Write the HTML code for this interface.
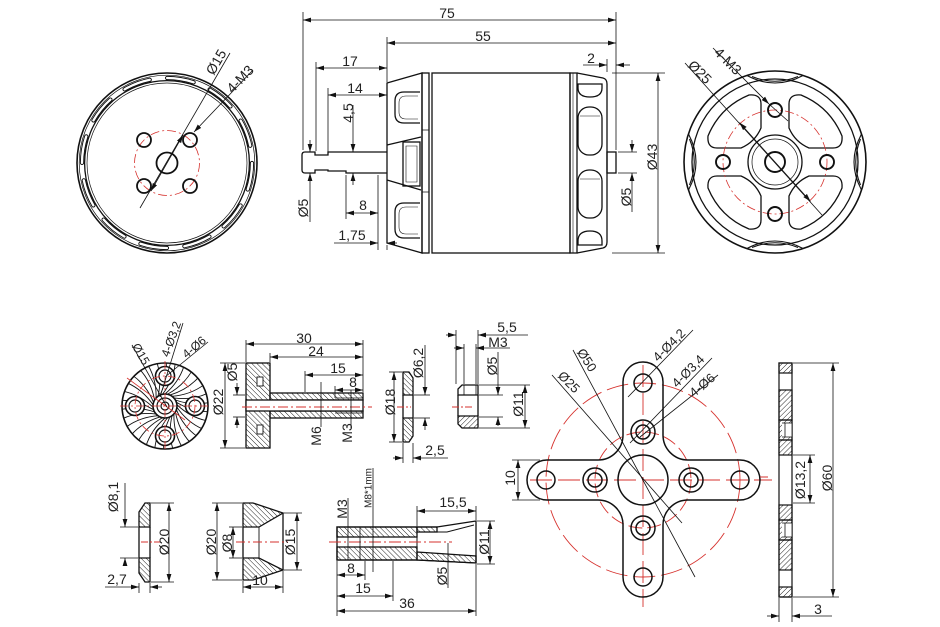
<!DOCTYPE html>
<html><head><meta charset="utf-8"><style>
html,body{margin:0;padding:0;background:#fff;}
svg{display:block}
text{font-family:"Liberation Sans",sans-serif;font-size:14px;fill:#222}
</style></head><body>
<svg width="940" height="627" viewBox="0 0 940 627" xmlns="http://www.w3.org/2000/svg">
<defs>
<marker id="a" viewBox="0 0 8 6" refX="8" refY="3" markerWidth="8" markerHeight="6" orient="auto-start-reverse" markerUnits="userSpaceOnUse"><path d="M0,0.6 L8,3 L0,5.4z" fill="#111"/></marker>
<pattern id="hb" width="3.6" height="3.6" patternUnits="userSpaceOnUse" patternTransform="rotate(-45)"><line x1="0" y1="0" x2="0" y2="3.6" stroke="#111" stroke-width="0.9"/></pattern>
<pattern id="hf" width="3.6" height="3.6" patternUnits="userSpaceOnUse" patternTransform="rotate(45)"><line x1="0" y1="0" x2="0" y2="3.6" stroke="#111" stroke-width="0.9"/></pattern>
<path id="petal" d="M14,-34 L14,-58 Q14,-68 26,-67 Q55,-55 67,-26 Q68,-14 58,-14 L34,-14 Q20,-20 14,-34 Z"/>
<path id="lens" d="M747,75.5 Q775,90.5 803,75.5 M752,76.5 Q775,86 798,76.5"/>
<path id="sw" d="M0,-12 Q14,-24 19,-40"/>
<clipPath id="dc"><circle cx="0" cy="0" r="42.5"/></clipPath>
</defs>

<!-- ============ LEFT FACE ============ -->
<g transform="translate(167,163)" fill="none" stroke="#111">
 <circle r="90" stroke-width="1.6"/>
 <circle r="87.8" stroke-width="0.7"/>
 <circle r="85" stroke-width="4.2" stroke-dasharray="27 17.5" stroke-linecap="round"/>
 <circle r="85" stroke="#fff" stroke-width="2.3" stroke-dasharray="27 17.5" stroke-linecap="round"/>
 <circle r="82.4" stroke-width="1.3"/>
 <circle r="80" stroke-width="0.7"/>
 <circle r="32.5" stroke="#d6322e" stroke-width="0.8" stroke-dasharray="9 3 2 3"/>
 <circle r="10.5" stroke-width="1.8"/>
 <circle cx="-23" cy="-23" r="7" stroke-width="1.8"/>
 <circle cx="23" cy="-23" r="7" stroke-width="1.8"/>
 <circle cx="-23" cy="23" r="7" stroke-width="1.8"/>
 <circle cx="23" cy="23" r="7" stroke-width="1.8"/>
</g>
<g stroke="#111" stroke-width="0.8" fill="none">
 <line x1="140" y1="208" x2="230" y2="53"/>
 <line x1="183" y1="135" x2="151" y2="191" marker-start="url(#a)" marker-end="url(#a)"/>
 <line x1="253" y1="70" x2="194" y2="132" marker-end="url(#a)"/>
</g>
<text transform="translate(216,62) rotate(-60)" text-anchor="middle" dy=".35em">Ø15</text>
<text transform="translate(240,79) rotate(-46)" text-anchor="middle" dy=".35em">4-M3</text>

<!-- ============ MOTOR SIDE VIEW ============ -->
<g fill="none" stroke="#111" stroke-width="1.3">
 <path d="M305,152 L315,152 L315,155 L328,155 L328,152 L387,152 M387,173 L346,173 L346,171 L328,171 L328,170 L315,170 L315,173 L305,173 Q302,173 302,170 L302,155 Q302,152 305,152"/>
 <path d="M387,83 L422,73 L422,253 L387,243 Z"/>
 <path d="M387,145 L421,137 M387,180 L421,190"/>
 <rect x="403" y="142" width="17" height="44"/>
 <path d="M406,146 L417,146 L417,182 L406,182 Z" stroke-width="0.6"/>
 <path d="M420,92 L404,92 Q395,92 395,101 L395,114 Q395,123 404,123 L420,123"/>
 <path d="M418,96 L406,96 Q399,96 399,103 L399,112 Q399,119 406,119 L418,119" stroke-width="0.6"/>
 <path d="M420,203 L404,203 Q395,203 395,212 L395,229 Q395,238 404,238 L420,238"/>
 <path d="M418,207 L406,207 Q399,207 399,214 L399,227 Q399,234 406,234 L418,234" stroke-width="0.6"/>
 <rect x="422" y="73" width="7" height="180"/>
 <path d="M422,130 L429,130 M422,192 L429,192" stroke-width="0.8"/>
 <rect x="432" y="73" width="138" height="180"/>
 <rect x="570" y="73" width="7" height="180"/>
 <line x1="573" y1="73" x2="573" y2="253" stroke-width="0.6"/>
 <path d="M577,73 L603,78 Q607,79 607,84 L607,242 Q607,247 603,248 L577,253"/>
 <path d="M578,84 L602,84 L602,88 Q602,97 590,97 Q578,97 578,88 Z"/>
 <rect x="578" y="107" width="24" height="48" rx="11"/>
 <line x1="580" y1="116" x2="600" y2="116" stroke-width="0.6"/>
 <rect x="578" y="170" width="24" height="48" rx="11"/>
 <line x1="580" y1="179" x2="600" y2="179" stroke-width="0.6"/>
 <path d="M578,245 L602,245 L602,241 Q602,231 590,231 Q578,231 578,241 Z"/>
 <rect x="607" y="152" width="9" height="21"/>
</g>
<g stroke="#111" stroke-width="0.8" fill="none">
 <line x1="303" y1="12" x2="303" y2="150"/>
 <line x1="616" y1="12" x2="616" y2="150"/>
 <line x1="387" y1="37" x2="387" y2="82"/>
 <line x1="316" y1="62" x2="316" y2="151"/>
 <line x1="328" y1="88" x2="328" y2="154"/>
 <line x1="346" y1="175" x2="346" y2="219"/>
 <line x1="378" y1="175" x2="378" y2="250"/>
 <line x1="387" y1="245" x2="387" y2="250"/>
 <line x1="607" y1="59" x2="607" y2="72"/>
 <line x1="612" y1="73" x2="665" y2="73"/>
 <line x1="612" y1="253" x2="665" y2="253"/>
 <line x1="618" y1="152" x2="637" y2="152"/>
 <line x1="618" y1="173" x2="637" y2="173"/>
 <line x1="303" y1="20" x2="616" y2="20" marker-start="url(#a)" marker-end="url(#a)"/>
 <line x1="387" y1="43" x2="616" y2="43" marker-start="url(#a)" marker-end="url(#a)"/>
 <line x1="316" y1="68" x2="387" y2="68" marker-start="url(#a)" marker-end="url(#a)"/>
 <line x1="328" y1="95" x2="387" y2="95" marker-start="url(#a)" marker-end="url(#a)"/>
 <line x1="353" y1="105" x2="353" y2="152" marker-end="url(#a)"/>
 <line x1="353" y1="185" x2="353" y2="173" marker-end="url(#a)"/>
 <line x1="310" y1="140" x2="310" y2="152" marker-end="url(#a)"/>
 <line x1="310" y1="222" x2="310" y2="173" marker-end="url(#a)"/>
 <line x1="346" y1="213" x2="378" y2="213" marker-start="url(#a)" marker-end="url(#a)"/>
 <line x1="334" y1="243" x2="378" y2="243" marker-end="url(#a)"/>
 <line x1="397" y1="243" x2="387" y2="243" marker-end="url(#a)"/>
 <line x1="583" y1="65" x2="607" y2="65" marker-end="url(#a)"/>
 <line x1="630" y1="65" x2="616" y2="65" marker-end="url(#a)"/>
 <line x1="658" y1="73" x2="658" y2="253" marker-start="url(#a)" marker-end="url(#a)"/>
 <line x1="632" y1="140" x2="632" y2="152" marker-end="url(#a)"/>
 <line x1="632" y1="212" x2="632" y2="173" marker-end="url(#a)"/>
</g>
<text x="447" y="18" text-anchor="middle">75</text>
<text x="483" y="41" text-anchor="middle">55</text>
<text x="350" y="66" text-anchor="middle">17</text>
<text x="355" y="93" text-anchor="middle">14</text>
<text transform="translate(348,113) rotate(-90)" text-anchor="middle" dy=".35em">4,5</text>
<text transform="translate(303,208) rotate(-90)" text-anchor="middle" dy=".35em">Ø5</text>
<text x="363" y="210" text-anchor="middle">8</text>
<text x="352" y="240" text-anchor="middle">1,75</text>
<text x="591" y="63" text-anchor="middle">2</text>
<text transform="translate(652,157) rotate(-90)" text-anchor="middle" dy=".35em">Ø43</text>
<text transform="translate(626,197) rotate(-90)" text-anchor="middle" dy=".35em">Ø5</text>

<!-- ============ RIGHT FACE ============ -->
<g fill="none" stroke="#111">
 <circle cx="775" cy="162" r="91" stroke-width="1.6"/>
 <circle cx="775" cy="162" r="83" stroke-width="1.3"/>
 <g stroke-width="1.1">
  <use href="#lens"/>
  <use href="#lens" transform="rotate(90 775 162)"/>
  <use href="#lens" transform="rotate(180 775 162)"/>
  <use href="#lens" transform="rotate(270 775 162)"/>
 </g>
 <g transform="translate(775,162)" stroke-width="1.3">
  <use href="#petal"/>
  <use href="#petal" transform="rotate(90)"/>
  <use href="#petal" transform="rotate(180)"/>
  <use href="#petal" transform="rotate(270)"/>
  <circle r="52" stroke="#d6322e" stroke-width="0.8" stroke-dasharray="9 3 2 3"/>
  <circle r="27" stroke-width="1.3"/>
  <circle r="23" stroke-width="0.7"/>
  <circle r="10" stroke-width="1.9"/>
  <circle cx="0" cy="-52" r="7" stroke-width="1.9"/>
  <circle cx="0" cy="52" r="7" stroke-width="1.9"/>
  <circle cx="-52" cy="0" r="7" stroke-width="1.9"/>
  <circle cx="52" cy="0" r="7" stroke-width="1.9"/>
 </g>
</g>
<g stroke="#111" stroke-width="0.8" fill="none">
 <line x1="685" y1="63" x2="822" y2="215"/>
 <line x1="739.5" y1="122.6" x2="810.5" y2="201.4" marker-start="url(#a)" marker-end="url(#a)"/>
 <line x1="713" y1="48" x2="769" y2="104" marker-end="url(#a)"/>
 <line x1="769" y1="104" x2="788" y2="121"/>
</g>
<text transform="translate(700,72) rotate(45)" text-anchor="middle" dy=".35em">Ø25</text>
<text transform="translate(728,61) rotate(45)" text-anchor="middle" dy=".35em">4-M3</text>

<!-- ============ DISC (bottom-left) ============ -->
<g fill="none" stroke="#111" transform="translate(165,406)">
 <g clip-path="url(#dc)" stroke-width="0.9">
  <use href="#sw"/><use href="#sw" transform="rotate(12)"/><use href="#sw" transform="rotate(24)"/><use href="#sw" transform="rotate(36)"/>
  <use href="#sw" transform="rotate(48)"/><use href="#sw" transform="rotate(60)"/><use href="#sw" transform="rotate(72)"/><use href="#sw" transform="rotate(84)"/>
  <use href="#sw" transform="rotate(96)"/><use href="#sw" transform="rotate(108)"/><use href="#sw" transform="rotate(120)"/><use href="#sw" transform="rotate(132)"/>
  <use href="#sw" transform="rotate(144)"/><use href="#sw" transform="rotate(156)"/><use href="#sw" transform="rotate(168)"/><use href="#sw" transform="rotate(180)"/>
  <use href="#sw" transform="rotate(192)"/><use href="#sw" transform="rotate(204)"/><use href="#sw" transform="rotate(216)"/><use href="#sw" transform="rotate(228)"/>
  <use href="#sw" transform="rotate(240)"/><use href="#sw" transform="rotate(252)"/><use href="#sw" transform="rotate(264)"/><use href="#sw" transform="rotate(276)"/>
  <use href="#sw" transform="rotate(288)"/><use href="#sw" transform="rotate(300)"/><use href="#sw" transform="rotate(312)"/><use href="#sw" transform="rotate(324)"/>
  <use href="#sw" transform="rotate(336)"/><use href="#sw" transform="rotate(348)"/>
 </g>
 <circle r="43" stroke-width="1.6"/>
 <g fill="#fff" stroke-width="1.6">
  <circle cx="0" cy="-30" r="9.5"/><circle cx="0" cy="30" r="9.5"/><circle cx="-30" cy="0" r="9.5"/><circle cx="30" cy="0" r="9.5"/>
  <circle r="12"/>
 </g>
 <g stroke-width="1.2">
  <circle cx="0" cy="-30" r="6"/><circle cx="0" cy="30" r="6"/><circle cx="-30" cy="0" r="6"/><circle cx="30" cy="0" r="6"/>
  <circle r="8"/><circle r="4"/>
 </g>
 <circle r="30" stroke="#d6322e" stroke-width="0.8" stroke-dasharray="8 3 2 3"/>
 <g stroke="#d6322e" stroke-width="0.8">
  <line x1="-45" y1="0" x2="45" y2="0" stroke-dasharray="8 3 2 3"/>
  <line x1="0" y1="-45" x2="0" y2="45" stroke-dasharray="8 3 2 3"/>
  <line x1="-38" y1="-28" x2="20" y2="14"/>
 </g>
</g>
<g stroke="#111" stroke-width="0.8" fill="none">
 <line x1="132" y1="345" x2="167" y2="407"/>
 <line x1="183" y1="323" x2="160" y2="397"/>
 <line x1="208" y1="342" x2="165" y2="377"/>
</g>
<text transform="translate(141,354) rotate(60)" text-anchor="middle" dy=".35em" style="font-size:12px">Ø15</text>
<text transform="translate(171,339) rotate(-70)" text-anchor="middle" dy=".35em" style="font-size:12px">4-Ø3,2</text>
<text transform="translate(194,347) rotate(-40)" text-anchor="middle" dy=".35em" style="font-size:12px">4-Ø6</text>

<!-- ============ ADAPTER SIDE ============ -->
<g stroke="#111" stroke-width="1.3">
 <rect x="246" y="363" width="24" height="85" fill="url(#hb)"/>
 <rect x="270" y="393" width="93" height="7" fill="url(#hb)"/>
 <rect x="270" y="411" width="93" height="7" fill="url(#hb)"/>
 <rect x="246" y="400" width="117" height="11" fill="#fff"/>
 <rect x="257" y="377" width="6" height="9" fill="#fff" stroke-width="0.9"/>
 <rect x="257" y="425" width="6" height="9" fill="#fff" stroke-width="0.9"/>
 <line x1="335" y1="398" x2="363" y2="398" stroke-width="0.8"/>
 <line x1="335" y1="413" x2="363" y2="413" stroke-width="0.8"/>
</g>
<line x1="242" y1="407" x2="372" y2="407" stroke="#d6322e" stroke-width="0.9" stroke-dasharray="10 3 2 3"/>
<g stroke="#111" stroke-width="0.8" fill="none">
 <line x1="246" y1="340" x2="246" y2="362"/>
 <line x1="363" y1="340" x2="363" y2="392"/>
 <line x1="270" y1="353" x2="270" y2="362"/>
 <line x1="305" y1="371" x2="305" y2="392"/>
 <line x1="335" y1="386" x2="335" y2="398"/>
 <line x1="220" y1="363" x2="245" y2="363"/>
 <line x1="220" y1="448" x2="245" y2="448"/>
 <line x1="233" y1="395" x2="245" y2="395"/>
 <line x1="233" y1="417" x2="245" y2="417"/>
 <line x1="246" y1="344" x2="363" y2="344" marker-start="url(#a)" marker-end="url(#a)"/>
 <line x1="270" y1="357" x2="363" y2="357" marker-start="url(#a)" marker-end="url(#a)"/>
 <line x1="305" y1="375" x2="363" y2="375" marker-start="url(#a)" marker-end="url(#a)"/>
 <line x1="335" y1="390" x2="363" y2="390" marker-start="url(#a)" marker-end="url(#a)"/>
 <line x1="225" y1="363" x2="225" y2="448" marker-start="url(#a)" marker-end="url(#a)"/>
 <line x1="237" y1="383" x2="237" y2="395" marker-end="url(#a)"/>
 <line x1="237" y1="428" x2="237" y2="417" marker-end="url(#a)"/>
 <line x1="321" y1="382" x2="321" y2="427"/>
 <line x1="351" y1="390" x2="351" y2="428"/>
</g>
<text x="304" y="343" text-anchor="middle">30</text>
<text x="316" y="356" text-anchor="middle">24</text>
<text x="338" y="373" text-anchor="middle">15</text>
<text x="353" y="387" text-anchor="middle">8</text>
<text transform="translate(218,402) rotate(-90)" text-anchor="middle" dy=".35em">Ø22</text>
<text transform="translate(232,372) rotate(-90)" text-anchor="middle" dy=".35em">Ø5</text>
<text transform="translate(316,436) rotate(-90)" text-anchor="middle" dy=".35em">M6</text>
<text transform="translate(347,433) rotate(-90)" text-anchor="middle" dy=".35em">M3</text>

<!-- ============ WASHER ============ -->
<g stroke="#111" stroke-width="1.3">
 <path d="M403,372 L409,372 L413,378 L413,395 L403,395 Z" fill="url(#hb)"/>
 <path d="M403,418 L413,418 L413,436 L409,442 L403,442 Z" fill="url(#hb)"/>
 <line x1="403" y1="395" x2="403" y2="418"/>
 <line x1="413" y1="395" x2="413" y2="418"/>
</g>
<line x1="397" y1="407" x2="411" y2="407" stroke="#d6322e" stroke-width="0.9" stroke-dasharray="7 2 2 2"/>
<g stroke="#111" stroke-width="0.8" fill="none">
 <line x1="389" y1="372" x2="402" y2="372"/>
 <line x1="389" y1="442" x2="402" y2="442"/>
 <line x1="394" y1="372" x2="394" y2="442" marker-start="url(#a)" marker-end="url(#a)"/>
 <line x1="414" y1="395" x2="430" y2="395"/>
 <line x1="414" y1="418" x2="430" y2="418"/>
 <line x1="425" y1="345" x2="425" y2="395" marker-end="url(#a)"/>
 <line x1="425" y1="430" x2="425" y2="418" marker-end="url(#a)"/>
 <line x1="403" y1="443" x2="403" y2="463"/>
 <line x1="413" y1="443" x2="413" y2="463"/>
 <line x1="393" y1="458" x2="403" y2="458" marker-end="url(#a)"/>
 <line x1="448" y1="458" x2="413" y2="458" marker-end="url(#a)"/>
</g>
<text transform="translate(390,402) rotate(-90)" text-anchor="middle" dy=".35em">Ø18</text>
<text transform="translate(418,363) rotate(-90)" text-anchor="middle" dy=".35em">Ø6,2</text>
<text x="435" y="455" text-anchor="middle">2,5</text>

<!-- ============ NUT ============ -->
<g stroke="#111" stroke-width="1.3">
 <path d="M462,385 L478,385 L478,395 L458,395 L458,389 Z" fill="#fff"/>
 <path d="M458,416 L478,416 L478,428 L462,428 L458,424 Z" fill="url(#hf)"/>
 <line x1="458" y1="395" x2="458" y2="416"/>
 <line x1="478" y1="395" x2="478" y2="416"/>
 <line x1="464" y1="385" x2="464" y2="395" stroke-width="0.8"/>
 <line x1="476" y1="385" x2="476" y2="395" stroke-width="0.8"/>
</g>
<line x1="452" y1="407" x2="472" y2="407" stroke="#d6322e" stroke-width="0.9" stroke-dasharray="7 2 2 2"/>
<g stroke="#111" stroke-width="0.8" fill="none">
 <line x1="456" y1="330" x2="456" y2="384"/>
 <line x1="478" y1="330" x2="478" y2="384"/>
 <line x1="464" y1="344" x2="464" y2="384"/>
 <line x1="476" y1="344" x2="476" y2="384"/>
 <line x1="446" y1="335" x2="456" y2="335" marker-end="url(#a)"/>
 <line x1="528" y1="335" x2="478" y2="335" marker-end="url(#a)"/>
 <line x1="454" y1="348" x2="464" y2="348" marker-end="url(#a)"/>
 <line x1="510" y1="348" x2="476" y2="348" marker-end="url(#a)"/>
 <line x1="479" y1="395" x2="503" y2="395"/>
 <line x1="479" y1="417" x2="503" y2="417"/>
 <line x1="498" y1="352" x2="498" y2="395" marker-end="url(#a)"/>
 <line x1="498" y1="426" x2="498" y2="417" marker-end="url(#a)"/>
 <line x1="479" y1="385" x2="530" y2="385"/>
 <line x1="479" y1="428" x2="530" y2="428"/>
 <line x1="525" y1="385" x2="525" y2="428" marker-start="url(#a)" marker-end="url(#a)"/>
</g>
<text x="507" y="332" text-anchor="middle">5,5</text>
<text x="498" y="347" text-anchor="middle">M3</text>
<text transform="translate(492,366) rotate(-90)" text-anchor="middle" dy=".35em">Ø5</text>
<text transform="translate(518,404) rotate(-90)" text-anchor="middle" dy=".35em">Ø11</text>

<!-- ============ CROSS MOUNT ============ -->
<g fill="none">
 <circle cx="643" cy="480" r="97" stroke="#d6322e" stroke-width="0.9" stroke-dasharray="22 6"/>
 <circle cx="643" cy="480" r="48" stroke="#d6322e" stroke-width="0.9" stroke-dasharray="14 5"/>
 <line x1="530" y1="480" x2="772" y2="480" stroke="#d6322e" stroke-width="0.9" stroke-dasharray="22 6"/>
 <line x1="643" y1="365" x2="643" y2="607" stroke="#d6322e" stroke-width="0.9" stroke-dasharray="22 6"/>
 <path d="M623,382 A20,20 0 0 1 663,382 L663,435 A25,25 0 0 0 688,460 L740,460 A20,20 0 0 1 740,500 L688,500 A25,25 0 0 0 663,525 L663,577 A20,20 0 0 1 623,577 L623,525 A25,25 0 0 0 598,500 L547,500 A20,20 0 0 1 547,460 L598,460 A25,25 0 0 0 623,435 Z" stroke="#111" stroke-width="1.5"/>
 <g stroke="#111" stroke-width="1.5">
  <circle cx="643" cy="480" r="25"/>
  <circle cx="643" cy="383" r="9"/><circle cx="643" cy="577" r="9"/><circle cx="546" cy="480" r="9"/><circle cx="740" cy="480" r="9"/>
  <circle cx="643" cy="432" r="12"/><circle cx="643" cy="528" r="12"/><circle cx="595" cy="480" r="12"/><circle cx="691" cy="480" r="12"/>
  <circle cx="643" cy="432" r="7"/><circle cx="643" cy="528" r="7"/><circle cx="595" cy="480" r="7"/><circle cx="691" cy="480" r="7"/>
 </g>
 <g stroke="#111" stroke-width="0.8">
  <line x1="552" y1="375" x2="682" y2="523"/>
  <line x1="573" y1="350" x2="695" y2="577"/>
  <line x1="628" y1="397" x2="693" y2="330"/>
  <line x1="630" y1="443" x2="712" y2="358"/>
  <line x1="640" y1="437" x2="718" y2="375"/>
  <line x1="512" y1="460" x2="540" y2="460"/>
  <line x1="512" y1="500" x2="540" y2="500"/>
  <line x1="518" y1="460" x2="518" y2="500" marker-start="url(#a)" marker-end="url(#a)"/>
 </g>
</g>
<text transform="translate(569,382) rotate(45)" text-anchor="middle" dy=".35em" style="font-size:13px">Ø25</text>
<text transform="translate(587,360) rotate(57)" text-anchor="middle" dy=".35em" style="font-size:13px">Ø50</text>
<text transform="translate(669,345) rotate(-45)" text-anchor="middle" dy=".35em" style="font-size:13px">4-Ø4,2</text>
<text transform="translate(688,371) rotate(-45)" text-anchor="middle" dy=".35em" style="font-size:13px">4-Ø3,4</text>
<text transform="translate(702,385) rotate(-40)" text-anchor="middle" dy=".35em" style="font-size:13px">4-Ø6</text>
<text transform="translate(510,478) rotate(-90)" text-anchor="middle" dy=".35em">10</text>

<!-- ============ PLATE ============ -->
<g stroke="#111" stroke-width="1.2">
 <rect x="779" y="363" width="13" height="234" fill="#fff"/>
 <rect x="779" y="363" width="13" height="10" fill="url(#hf)"/>
 <rect x="779" y="390" width="13" height="30" fill="url(#hf)"/>
 <path d="M779,420 L792,420 L792,440 L779,440 Z" fill="url(#hf)"/>
 <path d="M785,423 L792,423 L792,437 L785,437 Z M782,423 L785,423 L785,437 L782,437" fill="#fff" stroke-width="0.8"/>
 <rect x="779" y="440" width="13" height="15" fill="url(#hf)"/>
 <rect x="779" y="505" width="13" height="15" fill="url(#hf)"/>
 <path d="M779,520 L792,520 L792,540 L779,540 Z" fill="url(#hf)"/>
 <path d="M785,523 L792,523 L792,537 L785,537 Z M782,523 L785,523 L785,537 L782,537" fill="#fff" stroke-width="0.8"/>
 <rect x="779" y="540" width="13" height="30" fill="url(#hf)"/>
 <rect x="779" y="587" width="13" height="10" fill="url(#hf)"/>
</g>
<line x1="760" y1="477" x2="768" y2="477" stroke="#d6322e" stroke-width="1"/>
<g stroke="#111" stroke-width="0.8" fill="none">
 <line x1="793" y1="363" x2="839" y2="363"/>
 <line x1="793" y1="597" x2="839" y2="597"/>
 <line x1="833" y1="363" x2="833" y2="597" marker-start="url(#a)" marker-end="url(#a)"/>
 <line x1="793" y1="455" x2="815" y2="455"/>
 <line x1="793" y1="503" x2="815" y2="503"/>
 <line x1="810" y1="455" x2="810" y2="503" marker-start="url(#a)" marker-end="url(#a)"/>
 <line x1="779" y1="598" x2="779" y2="622"/>
 <line x1="792" y1="598" x2="792" y2="622"/>
 <line x1="767" y1="616" x2="779" y2="616" marker-end="url(#a)"/>
 <line x1="832" y1="616" x2="792" y2="616" marker-end="url(#a)"/>
</g>
<text transform="translate(800,480) rotate(-90)" text-anchor="middle" dy=".35em">Ø13,2</text>
<text transform="translate(827,478) rotate(-90)" text-anchor="middle" dy=".35em">Ø60</text>
<text x="818" y="614" text-anchor="middle">3</text>

<!-- ============ WASHER 2 ============ -->
<g stroke="#111" stroke-width="1.3">
 <path d="M145,503 L150,503 L150,527 L139,527 L139,512 Z" fill="url(#hb)"/>
 <path d="M139,558 L150,558 L150,582 L145,582 L139,573 Z" fill="url(#hb)"/>
 <line x1="139" y1="527" x2="139" y2="558"/>
 <line x1="150" y1="527" x2="150" y2="558"/>
</g>
<line x1="141" y1="542" x2="160" y2="542" stroke="#d6322e" stroke-width="0.9" stroke-dasharray="7 2 2 2"/>
<g stroke="#111" stroke-width="0.8" fill="none">
 <line x1="120" y1="527" x2="138" y2="527"/>
 <line x1="120" y1="558" x2="138" y2="558"/>
 <line x1="125" y1="483" x2="125" y2="527" marker-end="url(#a)"/>
 <line x1="125" y1="566" x2="125" y2="558" marker-end="url(#a)"/>
 <line x1="151" y1="503" x2="174" y2="503"/>
 <line x1="151" y1="582" x2="174" y2="582"/>
 <line x1="169" y1="503" x2="169" y2="582" marker-start="url(#a)" marker-end="url(#a)"/>
 <line x1="139" y1="583" x2="139" y2="593"/>
 <line x1="150" y1="583" x2="150" y2="593"/>
 <line x1="105" y1="587" x2="139" y2="587" marker-end="url(#a)"/>
 <line x1="162" y1="587" x2="150" y2="587" marker-end="url(#a)"/>
</g>
<text transform="translate(113,497) rotate(-90)" text-anchor="middle" dy=".35em">Ø8,1</text>
<text transform="translate(164,542) rotate(-90)" text-anchor="middle" dy=".35em">Ø20</text>
<text x="117" y="584" text-anchor="middle">2,7</text>

<!-- ============ CONE ============ -->
<g stroke="#111" stroke-width="1.3">
 <path d="M243,503 L253,503 L283,513 L259,527 L243,527 Z" fill="url(#hb)"/>
 <path d="M243,558 L259,558 L283,570 L253,580 L243,580 Z" fill="url(#hb)"/>
 <line x1="243" y1="527" x2="243" y2="558"/>
 <line x1="259" y1="527" x2="259" y2="558" stroke-width="0.9"/>
 <line x1="283" y1="513" x2="283" y2="570"/>
</g>
<line x1="236" y1="542" x2="288" y2="542" stroke="#d6322e" stroke-width="0.9" stroke-dasharray="9 3 2 3"/>
<g stroke="#111" stroke-width="0.8" fill="none">
 <line x1="212" y1="503" x2="242" y2="503"/>
 <line x1="212" y1="580" x2="242" y2="580"/>
 <line x1="217" y1="503" x2="217" y2="580" marker-start="url(#a)" marker-end="url(#a)"/>
 <line x1="229" y1="527" x2="242" y2="527"/>
 <line x1="229" y1="558" x2="242" y2="558"/>
 <line x1="233" y1="527" x2="233" y2="558" marker-start="url(#a)" marker-end="url(#a)"/>
 <line x1="284" y1="513" x2="302" y2="513"/>
 <line x1="284" y1="570" x2="302" y2="570"/>
 <line x1="297" y1="513" x2="297" y2="570" marker-start="url(#a)" marker-end="url(#a)"/>
 <line x1="243" y1="581" x2="243" y2="593"/>
 <line x1="283" y1="571" x2="283" y2="593"/>
 <line x1="243" y1="587" x2="283" y2="587" marker-start="url(#a)" marker-end="url(#a)"/>
</g>
<text transform="translate(211,542) rotate(-90)" text-anchor="middle" dy=".35em">Ø20</text>
<text transform="translate(227,543) rotate(-90)" text-anchor="middle" dy=".35em">Ø8</text>
<text transform="translate(290,542) rotate(-90)" text-anchor="middle" dy=".35em">Ø15</text>
<text x="260" y="585" text-anchor="middle">10</text>

<!-- ============ COLLET ============ -->
<g stroke="#111" stroke-width="1.3">
 <rect x="337" y="527" width="80" height="10" fill="url(#hb)"/>
 <rect x="337" y="547" width="80" height="13" fill="url(#hb)"/>
 <rect x="417" y="527" width="20" height="5" fill="url(#hb)"/>
 <path d="M417,552 L476,556 L476,563 L417,560 Z" fill="url(#hb)"/>
 <path d="M337,527 L437,527 L476,521 L476,563 L417,560 L337,560 Z" fill="none"/>
 <path d="M437,532 L447,532 L474,525" fill="none" stroke-width="1"/>
 <line x1="417" y1="532" x2="417" y2="552" stroke-width="1"/>
 <line x1="337" y1="537" x2="417" y2="537" stroke-width="1"/>
 <line x1="337" y1="547" x2="417" y2="547" stroke-width="1"/>
</g>
<line x1="329" y1="542" x2="452" y2="542" stroke="#d6322e" stroke-width="0.9" stroke-dasharray="12 3 2 3"/>
<g stroke="#111" stroke-width="0.8" fill="none">
 <line x1="348" y1="498" x2="348" y2="560"/>
 <line x1="360" y1="527" x2="360" y2="560"/>
 <line x1="373" y1="468" x2="373" y2="572"/>
 <line x1="417" y1="506" x2="417" y2="526"/>
 <line x1="476" y1="506" x2="476" y2="520"/>
 <line x1="417" y1="511" x2="476" y2="511" marker-start="url(#a)" marker-end="url(#a)"/>
 <line x1="477" y1="521" x2="495" y2="521"/>
 <line x1="477" y1="564" x2="495" y2="564"/>
 <line x1="490" y1="521" x2="490" y2="564" marker-start="url(#a)" marker-end="url(#a)"/>
 <line x1="448" y1="543" x2="448" y2="588"/>
 <line x1="337" y1="561" x2="337" y2="616"/>
 <line x1="365" y1="561" x2="365" y2="580"/>
 <line x1="393" y1="561" x2="393" y2="601"/>
 <line x1="476" y1="564" x2="476" y2="616"/>
 <line x1="337" y1="575" x2="365" y2="575" marker-start="url(#a)" marker-end="url(#a)"/>
 <line x1="337" y1="596" x2="393" y2="596" marker-start="url(#a)" marker-end="url(#a)"/>
 <line x1="337" y1="611" x2="476" y2="611" marker-start="url(#a)" marker-end="url(#a)"/>
</g>
<text x="453" y="507" text-anchor="middle">15,5</text>
<text transform="translate(484,542) rotate(-90)" text-anchor="middle" dy=".35em">Ø11</text>
<text transform="translate(442,576) rotate(-90)" text-anchor="middle" dy=".35em">Ø5</text>
<text transform="translate(342,509) rotate(-90)" text-anchor="middle" dy=".35em">M3</text>
<text transform="translate(368,488) rotate(-90)" text-anchor="middle" dy=".35em" style="font-size:10px">M8*1mm</text>
<text x="351" y="573" text-anchor="middle">8</text>
<text x="363" y="593" text-anchor="middle">15</text>
<text x="407" y="608" text-anchor="middle">36</text>
</svg>
</body></html>
